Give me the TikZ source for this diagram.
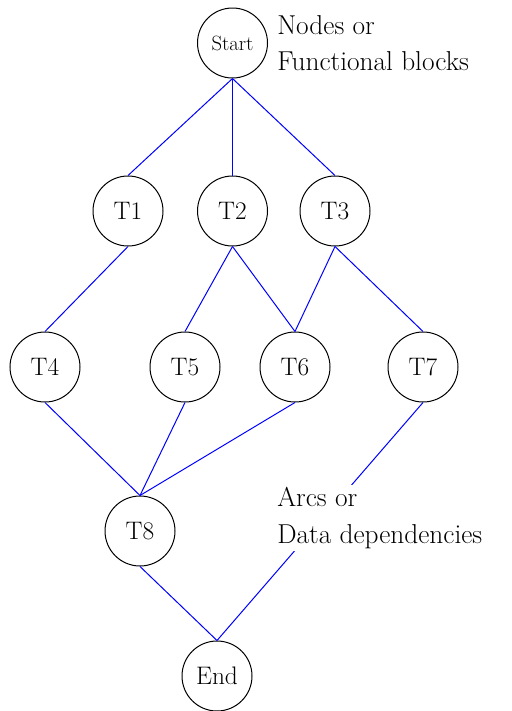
\documentclass[tikz,border=0pt]{standalone}
\usepackage{fontspec}
\begin{document}
\begin{tikzpicture}[x=0.75pt,y=-0.75pt,
  task/.style={circle,draw=black,line width=0.75pt,minimum size=52.5pt,inner sep=0pt,font=\fontsize{19}{22}\selectfont},
  arc/.style={draw=blue,line width=0.75pt},
  note/.style={anchor=north west,align=left,inner sep=1.5pt,fill=white,font=\fontsize{20.5}{27.5}\selectfont}]
\useasboundingbox (0,0) rectangle (511,711);
\node[task,font=\fontsize{15.5}{17}\selectfont] (start) at (232.5,43) {Start};
\node[task] (t1) at (128,211) {T1};
\node[task] (t2) at (232.5,211) {T2};
\node[task] (t3) at (335,211) {T3};
\node[task] (t4) at (45,367) {T4};
\node[task] (t5) at (185,367) {T5};
\node[task] (t6) at (295,367) {T6};
\node[task] (t7) at (423,367) {T7};
\node[task] (t8) at (140,531) {T8};
\node[task] (end) at (217,676) {End};
\draw[arc] (start.south) -- (t1.north);
\draw[arc] (start.south) -- (t2.north);
\draw[arc] (start.south) -- (t3.north);
\draw[arc] (t1.south) -- (t4.north);
\draw[arc] (t2.south) -- (t5.north);
\draw[arc] (t2.south) -- (t6.north);
\draw[arc] (t3.south) -- (t6.north);
\draw[arc] (t3.south) -- (t7.north);
\draw[arc] (t4.south) -- (t8.north);
\draw[arc] (t5.south) -- (t8.north);
\draw[arc] (t6.south) -- (t8.north);
\draw[arc] (t8.south) -- (end.north);
\draw[arc] (t7.south) -- (end.north);
\node[note,fill=none] (nodesnote) at (275,13) {Nodes or\\Functional blocks};
\node[note] (arcsnote) at (275,485) {Arcs or\\Data dependencies};
\end{tikzpicture}
\end{document}
